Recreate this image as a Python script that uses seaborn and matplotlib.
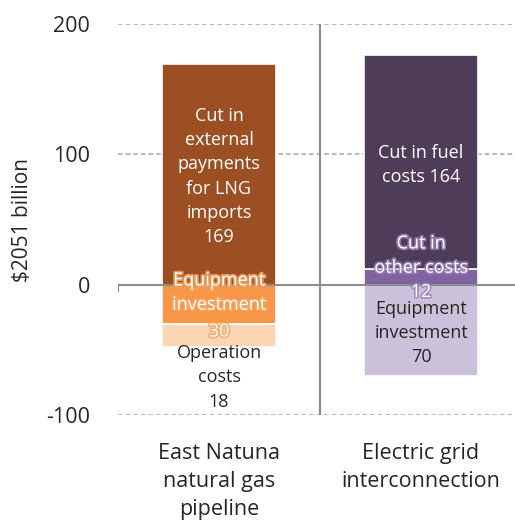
"""Cost/benefit comparison of two infrastructure options, stacked bars."""

import matplotlib.pyplot as plt
import matplotlib.patheffects as pe
import pandas as pd
import seaborn as sns

categories = ["East Natuna\nnatural gas\npipeline", "Electric grid\ninterconnection"]

# segments per bar, drawn in stacking order (positive up, negative down)
segment_category = [0, 0, 0, 1, 1, 1]
segment_value = [169, -30, -18, 12, 164, -70]
segment_color = ["#9C4F22", "#F79646", "#FCD5B5", "#8064A2", "#4E3C58", "#CCC1DA"]

# in-bar labels: (category, y in data units, text, text colour, glow colour)
label_category = [0, 0, 0, 0, 1, 1, 1]
label_y = [83, -6, -36, -71, 92, 13, -37]
label_text = [
    "Cut in\nexternal\npayments\nfor LNG\nimports\n169",
    "Equipment\ninvestment",
    "30",
    "Operation\ncosts\n18",
    "Cut in fuel\ncosts 164",
    "Cut in\nother costs\n12",
    "Equipment\ninvestment\n70",
]
label_color = ["white", "white", "white", "#262626", "white", "white", "#262626"]
label_glow = [None, "#F7A460", "#F7A460", None, None, "#9A80BC", None]

sns.set_theme(style="white")
plt.rcParams["font.family"] = ["Open Sans", "DejaVu Sans"]
plt.rcParams["axes.unicode_minus"] = False

fig = plt.figure(figsize=(5.15, 5.27), dpi=100)
ax = fig.add_axes([118 / 515, 112 / 527, 404 / 515, 391 / 527])

pos_base = [0.0, 0.0]
neg_base = [0.0, 0.0]
for cat, val, color in zip(segment_category, segment_value, segment_color):
    if val >= 0:
        bottom = pos_base[cat]
        pos_base[cat] += val
    else:
        bottom = neg_base[cat]
        neg_base[cat] += val
    seg = pd.DataFrame({"category": [categories[cat]], "value": [val]})
    sns.barplot(
        data=seg,
        x="category",
        y="value",
        order=categories,
        bottom=bottom,
        color=color,
        saturation=1,
        width=0.565,
        edgecolor="white",
        linewidth=1.2,
        err_kws={"linewidth": 0},
        ax=ax,
    )

for cat, y, text, color, glow in zip(label_category, label_y, label_text, label_color, label_glow):
    effects = [pe.withStroke(linewidth=2.5, foreground=glow, alpha=0.8)] if glow else None
    ax.text(cat, y, text, ha="center", va="center", fontsize=13, color=color,
            linespacing=1.45, path_effects=effects, zorder=5)

# gridlines and separators
for y in (200, 100, -100):
    ax.axhline(y, color="#A6A6A6", linestyle=(0, (3, 2)), linewidth=1.1, zorder=0)
ax.axhline(0, color="#8C8C8C", linewidth=1.5, zorder=3)
ax.axvline(0.5, color="#8C8C8C", linewidth=1.5, zorder=0)
ax.vlines(-0.5, -6, 0, color="#8C8C8C", linewidth=1.5, zorder=3)

ax.set_xlim(-0.5, 1.5)
ax.set_ylim(-100, 200)
ax.set_yticks([-100, 0, 100, 200])
ax.tick_params(axis="y", length=0, pad=20, labelsize=15.5, labelcolor="#262626")
ax.tick_params(axis="x", length=0, pad=20, labelsize=15.5, labelcolor="#262626")
for lbl in ax.get_xticklabels():
    lbl.set_linespacing(1.45)
ax.set_xlabel("")
ax.set_ylabel("$2051 billion", fontsize=15, color="#262626")
ax.yaxis.set_label_coords(-0.21, 0.5)
sns.despine(ax=ax, left=True, bottom=True)

fig.savefig("out.png", dpi=100)
